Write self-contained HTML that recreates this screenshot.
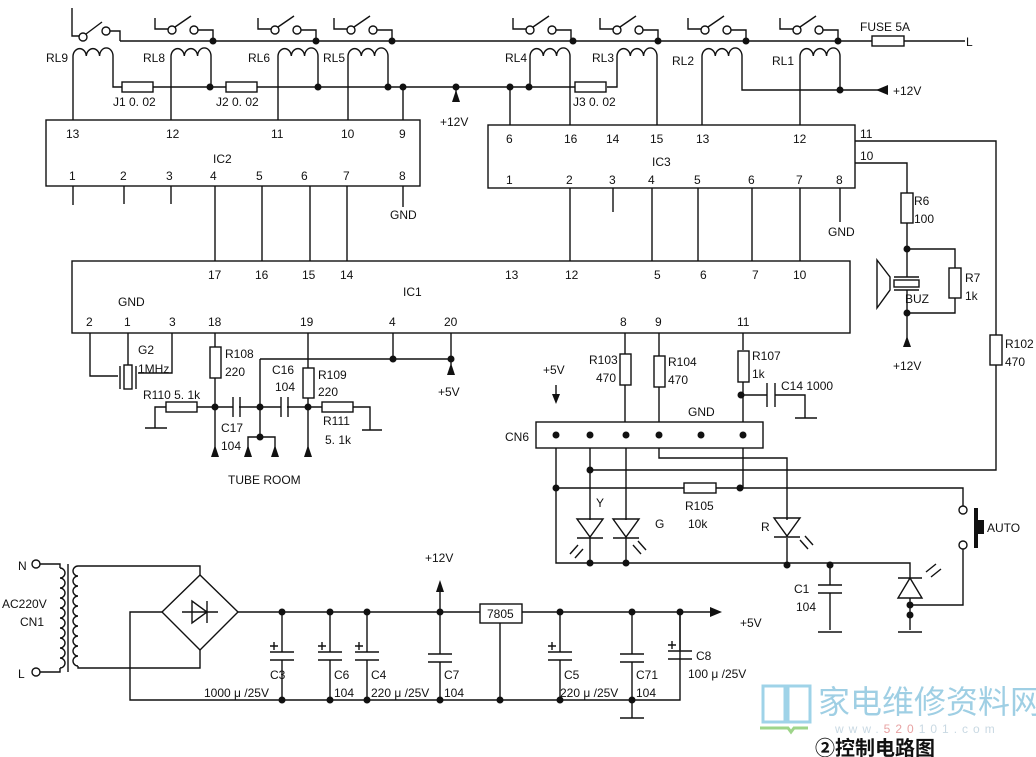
<!DOCTYPE html>
<html><head><meta charset="utf-8"><style>
html,body{margin:0;padding:0;background:#fff}
svg{display:block}
text{font-family:"Liberation Sans","Noto Sans CJK SC",sans-serif;font-size:12px;fill:#111}
.w{stroke:#111;stroke-width:1.4;fill:none}
.r{stroke:#111;stroke-width:1.4;fill:#fff}
.d{fill:#111}
</style></head><body>
<svg width="1036" height="757" viewBox="0 0 1036 757" xmlns="http://www.w3.org/2000/svg">
<defs>
<g id="coil"><path class="w" d="M0,62 V56 a6.67,8 0 0 1 13.3,0 a6.67,8 0 0 1 13.3,0 a6.67,8 0 0 1 13.4,0 V62"/></g>
<g id="sw"><path class="w" d="M0,18 V29 H13"/><circle class="r" cx="17" cy="30" r="4"/><line class="w" x1="20" y1="27" x2="36" y2="16"/><circle class="r" cx="39" cy="30" r="4"/><path class="w" d="M43,30 H58 V41"/></g>
<g id="dot"><circle class="d" r="3.5"/></g>
<g id="cap"><line class="w" x1="-12" y1="-4" x2="12" y2="-4"/><line class="w" x1="-12" y1="4" x2="12" y2="4"/></g>
<g id="ecap"><line class="w" x1="-12" y1="-4" x2="12" y2="-4"/><line class="w" x1="-12" y1="4" x2="12" y2="4"/><path class="w" d="M-8,-14 v8 M-12,-10 h8"/></g>
</defs>

<line class="w" x1="120" y1="41" x2="965" y2="41"/>
<rect class="r" x="872" y="36" width="32" height="10"/>
<text x="860" y="31">FUSE 5A</text>
<text x="966" y="46">L</text>
<path class="w" d="M72,8 V36 H80"/><circle class="r" cx="83" cy="37" r="4"/><line class="w" x1="86" y1="34" x2="102" y2="22"/><circle class="r" cx="106" cy="31" r="4"/><path class="w" d="M110,31 H120 V41"/>
<use href="#sw" x="155"/><use href="#sw" x="258"/><use href="#sw" x="334"/>
<use href="#sw" x="513"/><use href="#sw" x="600"/><use href="#sw" x="688"/><use href="#sw" x="780"/>
<use href="#dot" x="213" y="41"/><use href="#dot" x="316" y="41"/><use href="#dot" x="392" y="41"/><use href="#dot" x="573" y="41"/><use href="#dot" x="658" y="41"/><use href="#dot" x="746" y="41"/><use href="#dot" x="838" y="41"/>

<use href="#coil" x="73" y="0"/><use href="#coil" x="171"/><use href="#coil" x="278"/><use href="#coil" x="348"/>
<use href="#coil" x="530"/><use href="#coil" x="617"/><use href="#coil" x="702"/><use href="#coil" x="800"/>
<text x="46" y="62">RL9</text><text x="143" y="62">RL8</text><text x="248" y="62">RL6</text><text x="323" y="62">RL5</text>
<text x="505" y="62">RL4</text><text x="592" y="62">RL3</text><text x="672" y="65">RL2</text><text x="772" y="65">RL1</text>
<path class="w" d="M73,62 V120 M113,62 V87 H122 M153,87 H226 M257,87 H575 M607,87 H617 V62"/>
<rect class="r" x="122" y="82" width="31" height="10"/><rect class="r" x="226" y="82" width="31" height="10"/><rect class="r" x="575" y="82" width="31" height="10"/>
<text x="113" y="106">J1  0. 02</text><text x="216" y="106">J2  0. 02</text><text x="573" y="106">J3  0. 02</text>
<path class="w" d="M171,62 V120 M211,62 V87 M278,62 V120 M318,62 V87 M348,62 V120 M388,62 V87 M403,87 V120 M456,87 V100"/>
<use href="#dot" x="210" y="87"/><use href="#dot" x="318" y="87"/><use href="#dot" x="388" y="87"/><use href="#dot" x="403" y="87"/><use href="#dot" x="456" y="87"/><use href="#dot" x="510" y="87"/><use href="#dot" x="529" y="87"/>
<path class="d" d="M456,90 l-4,12 h8z"/><text x="440" y="126">+12V</text>
<path class="w" d="M510,87 V125 M530,62 V87 M570,62 V125 M657,62 V125 M702,62 V125 M742,62 V90 H880 M800,62 V125 M840,62 V90"/>
<use href="#dot" x="840" y="90"/><path class="d" d="M876,90 l12,-5 v10z"/><text x="893" y="95">+12V</text>

<rect class="w" x="46" y="120" width="374" height="66"/>
<text x="66" y="138">13</text><text x="166" y="138">12</text><text x="271" y="138">11</text><text x="341" y="138">10</text><text x="399" y="138">9</text>
<text x="213" y="163">IC2</text>
<text x="69" y="180">1</text><text x="120" y="180">2</text><text x="166" y="180">3</text><text x="210" y="180">4</text><text x="256" y="180">5</text><text x="301" y="180">6</text><text x="343" y="180">7</text><text x="399" y="180">8</text>
<path class="w" d="M73,186 V205 M124,186 V204 M171,186 V204 M215,186 V261 M262,186 V261 M310,186 V261 M347,186 V261 M403,186 V207"/>
<text x="390" y="219">GND</text>

<rect class="w" x="488" y="125" width="367" height="63"/>
<text x="506" y="143">6</text><text x="564" y="143">16</text><text x="606" y="143">14</text><text x="650" y="143">15</text><text x="696" y="143">13</text><text x="793" y="143">12</text>
<text x="860" y="138">11</text><text x="860" y="160">10</text>
<text x="652" y="166">IC3</text>
<text x="506" y="184">1</text><text x="566" y="184">2</text><text x="609" y="184">3</text><text x="648" y="184">4</text><text x="694" y="184">5</text><text x="748" y="184">6</text><text x="796" y="184">7</text><text x="836" y="184">8</text>
<path class="w" d="M570,188 V261 M613,188 V212 M652,188 V261 M698,188 V261 M752,188 V261 M800,188 V261 M840,188 V222"/>
<text x="828" y="236">GND</text>
<path class="w" d="M855,141 H996 V335 M996,365 V470 H590"/>
<rect class="r" x="990" y="335" width="12" height="30"/><text x="1005" y="348">R102</text><text x="1005" y="366">470</text>
<path class="w" d="M855,163 H907 V193 M907,223 V249 H955 V268 M955,298 V313 H907 V345 M907,249 V277 M907,290 V313"/>
<rect class="r" x="901" y="193" width="12" height="30"/><text x="914" y="205">R6</text><text x="914" y="223">100</text>
<rect class="r" x="949" y="268" width="12" height="30"/><text x="965" y="282">R7</text><text x="965" y="300">1k</text>
<use href="#dot" x="907" y="249"/><use href="#dot" x="907" y="313"/>
<rect class="r" x="894" y="280" width="25" height="7"/><line class="w" x1="894" y1="277" x2="919" y2="277"/><line class="w" x1="894" y1="290" x2="919" y2="290"/>
<path class="w" d="M877,260 L890,277 V290 L877,308 Z M890,277 V290"/>
<text x="905" y="303">BUZ</text>
<path class="d" d="M907,336 l-4,11 h8z"/><text x="893" y="370">+12V</text>

<rect class="w" x="72" y="261" width="778" height="72"/>
<text x="208" y="279">17</text><text x="255" y="279">16</text><text x="302" y="279">15</text><text x="340" y="279">14</text><text x="505" y="279">13</text><text x="565" y="279">12</text><text x="654" y="279">5</text><text x="700" y="279">6</text><text x="752" y="279">7</text><text x="793" y="279">10</text>
<text x="403" y="296">IC1</text>
<text x="118" y="306">GND</text>
<text x="86" y="326">2</text><text x="124" y="326">1</text><text x="169" y="326">3</text><text x="208" y="326">18</text><text x="300" y="326">19</text><text x="389" y="326">4</text><text x="444" y="326">20</text><text x="620" y="326">8</text><text x="655" y="326">9</text><text x="737" y="326">11</text>

<path class="w" d="M90,333 V376 H118 M128,333 V365 M172,333 V373 H138"/>
<rect class="r" x="124" y="365" width="8" height="24"/><line class="w" x1="120" y1="366" x2="120" y2="389"/><line class="w" x1="136" y1="366" x2="136" y2="389"/>
<text x="138" y="354">G2</text><text x="138" y="373">1MHz</text>
<path class="w" d="M215,333 V347 M215,378 V455 M155,428 V407 H166 M197,407 H233 M239,407 H281 M287,407 H322 M353,407 H370 V430 M308,333 V368 M308,398 V455 M260,359 V437 M260,359 H451 M393,333 V359 M451,333 V365 M248,455 V437 H275 V455"/>
<line class="w" x1="145" y1="428" x2="167" y2="428"/><line class="w" x1="362" y1="430" x2="382" y2="430"/>
<rect class="r" x="210" y="347" width="11" height="31"/><rect class="r" x="303" y="368" width="11" height="30"/>
<rect class="r" x="166" y="402" width="31" height="10"/><rect class="r" x="322" y="402" width="31" height="10"/>
<line class="w" x1="233" y1="397" x2="233" y2="417"/><line class="w" x1="240" y1="397" x2="240" y2="417"/>
<line class="w" x1="281" y1="397" x2="281" y2="417"/><line class="w" x1="288" y1="397" x2="288" y2="417"/>
<use href="#dot" x="215" y="407"/><use href="#dot" x="260" y="407"/><use href="#dot" x="308" y="407"/><use href="#dot" x="260" y="437"/><use href="#dot" x="393" y="359"/><use href="#dot" x="451" y="359"/>
<path class="d" d="M215,445 l-4,12 h8z M248,445 l-4,12 h8z M275,445 l-4,12 h8z M308,445 l-4,12 h8z M451,363 l-4,12 h8z"/>
<text x="225" y="358">R108</text><text x="225" y="376">220</text>
<text x="143" y="399">R110  5. 1k</text>
<text x="221" y="432">C17</text><text x="221" y="450">104</text>
<text x="272" y="374">C16</text><text x="275" y="391">104</text>
<text x="318" y="379">R109</text><text x="318" y="396">220</text>
<text x="323" y="425">R111</text><text x="325" y="444">5. 1k</text>
<text x="228" y="484">TUBE  ROOM</text>
<text x="438" y="396">+5V</text>

<path class="w" d="M625,333 V354 M625,385 V422 M659,333 V356 M659,387 V422 M743,333 V350 M743,382 V422 M743,395 H767 M775,395 H805 V418"/>
<line class="w" x1="795" y1="418" x2="817" y2="418"/>
<rect class="r" x="620" y="354" width="11" height="31"/><rect class="r" x="654" y="356" width="11" height="31"/><rect class="r" x="738" y="351" width="11" height="31"/>
<line class="w" x1="767" y1="383" x2="767" y2="407"/><line class="w" x1="775" y1="383" x2="775" y2="407"/>
<use href="#dot" x="741" y="395"/>
<text x="589" y="364">R103</text><text x="596" y="382">470</text>
<text x="668" y="366">R104</text><text x="668" y="384">470</text>
<text x="752" y="360">R107</text><text x="752" y="378">1k</text>
<text x="781" y="390">C14  1000</text>
<text x="688" y="416">GND</text>
<path class="w" d="M556,385 V398"/><path class="d" d="M556,404 l-4,-10 h8z"/><text x="543" y="374">+5V</text>
<rect class="w" x="536" y="422" width="227" height="26"/>
<use href="#dot" x="556" y="435"/><use href="#dot" x="590" y="435"/><use href="#dot" x="626" y="435"/><use href="#dot" x="659" y="435"/><use href="#dot" x="701" y="435"/><use href="#dot" x="743" y="435"/>
<text x="505" y="441">CN6</text>
<path class="w" d="M556,448 V563 H910 V578 M590,448 V520 M590,538 V563 M626,448 V520 M626,538 V563 M659,448 V458 H787 V520 M787,538 V565 M743,448 V488 M556,488 H684 M716,488 H963 V506 M963,549 V605 H910 M910,598 V615 M830,563 V585 M830,593 V630"/>
<rect class="r" x="684" y="483" width="32" height="10"/>
<use href="#dot" x="590" y="470"/><use href="#dot" x="556" y="488"/><use href="#dot" x="740" y="488"/><use href="#dot" x="590" y="563"/><use href="#dot" x="626" y="563"/><use href="#dot" x="787" y="565"/><use href="#dot" x="830" y="565"/><use href="#dot" x="910" y="605"/>
<text x="685" y="510">R105</text><text x="688" y="528">10k</text>
<path class="w" d="M577,519 H603 L590,537 Z M577,538 H603 M613,519 H639 L626,537 Z M613,538 H639 M774,518 H800 L787,536 Z M774,537 H800"/>
<path class="w" d="M578,545 l-8,9 M583,549 l-8,9 M633,545 l8,9 M638,541 l8,9 M800,540 l8,9 M805,536 l8,9"/>
<text x="596" y="507">Y</text><text x="655" y="528">G</text><text x="761" y="531">R</text>
<line class="w" x1="818" y1="585" x2="842" y2="585"/><line class="w" x1="818" y1="593" x2="842" y2="593"/><line class="w" x1="818" y1="632" x2="842" y2="632"/>
<text x="794" y="593">C1</text><text x="796" y="611">104</text>
<path class="w" d="M898,598 H922 L910,578 Z M898,578 H922 M910,615 V630 M898,632 H922 M926,572 l10,-8 M931,577 l10,-8"/>
<use href="#dot" x="910" y="615"/>
<circle class="r" cx="963" cy="510" r="4"/><circle class="r" cx="963" cy="545" r="4"/>
<rect class="d" x="974" y="508" width="4" height="40"/><rect class="d" x="978" y="520" width="6" height="14"/>
<text x="987" y="532">AUTO</text>

<circle class="r" cx="36" cy="564" r="4"/><circle class="r" cx="36" cy="672" r="4"/>
<text x="18" y="570">N</text><text x="18" y="678">L</text><text x="2" y="608">AC220V</text><text x="20" y="626">CN1</text>
<path class="w" d="M40,564 H60 V568 M40,672 H60 V668"/>
<path class="w" d="M60,568 a5,5 0 0 1 0,10 a5,5 0 0 1 0,10 a5,5 0 0 1 0,10 a5,5 0 0 1 0,10 a5,5 0 0 1 0,10 a5,5 0 0 1 0,10 a5,5 0 0 1 0,10 a5,5 0 0 1 0,10 a5,5 0 0 1 0,10 a5,5 0 0 1 0,10"/>
<line class="w" x1="68" y1="564" x2="68" y2="672"/>
<path class="w" d="M78,566 a5,5 0 0 0 0,10 a5,5 0 0 0 0,10 a5,5 0 0 0 0,10 a5,5 0 0 0 0,10 a5,5 0 0 0 0,10 a5,5 0 0 0 0,10 a5,5 0 0 0 0,10 a5,5 0 0 0 0,10 a5,5 0 0 0 0,10 a5,5 0 0 0 0,10"/>
<path class="w" d="M78,566 H200 V575 M78,666 V668 H200 V650"/>
<path class="w" d="M200,575 L238,612 L200,650 L162,612 Z"/>
<path class="w" d="M182,612 H218 M192,601 V623 L207,612 Z M207,601 V623"/>
<path class="w" d="M162,612 H130 V700 H680 V612 M238,612 H480 M522,612 H712"/>
<path class="d" d="M722,612 l-12,-5 v10z"/><text x="740" y="627">+5V</text>
<rect class="r" x="480" y="604" width="42" height="19"/><text x="487" y="618">7805</text>
<path class="w" d="M500,623 V700 M440,612 V586 M632,700 V718"/><path class="d" d="M440,580 l-4,12 h8z"/><line class="w" x1="620" y1="718" x2="644" y2="718"/>
<text x="425" y="562">+12V</text>
<path class="w" d="M282,612 V652 M282,660 V700 M330,612 V652 M330,660 V700 M367,612 V652 M367,660 V700 M440,612 V654 M440,662 V700 M560,612 V652 M560,660 V700 M632,612 V654 M632,662 V700 M680,612 V650"/>
<use href="#ecap" x="282" y="656"/><use href="#ecap" x="330" y="656"/><use href="#ecap" x="367" y="656"/><use href="#cap" x="440" y="658"/><use href="#ecap" x="560" y="656"/><use href="#cap" x="632" y="658"/><use href="#ecap" x="680" y="655"/>
<use href="#dot" x="282" y="612"/><use href="#dot" x="330" y="612"/><use href="#dot" x="367" y="612"/><use href="#dot" x="440" y="612"/><use href="#dot" x="560" y="612"/><use href="#dot" x="632" y="612"/><use href="#dot" x="680" y="612"/>
<use href="#dot" x="282" y="700"/><use href="#dot" x="330" y="700"/><use href="#dot" x="367" y="700"/><use href="#dot" x="440" y="700"/><use href="#dot" x="500" y="700"/><use href="#dot" x="560" y="700"/><use href="#dot" x="632" y="700"/>
<text x="270" y="679">C3</text><text x="204" y="697">1000 μ /25V</text>
<text x="334" y="679">C6</text><text x="334" y="697">104</text>
<text x="371" y="679">C4</text><text x="371" y="697">220 μ /25V</text>
<text x="444" y="679">C7</text><text x="444" y="697">104</text>
<text x="564" y="679">C5</text><text x="560" y="697">220 μ /25V</text>
<text x="636" y="679">C71</text><text x="636" y="697">104</text>
<text x="696" y="660">C8</text><text x="688" y="678">100 μ /25V</text>

<path d="M763,686 h22 v36 h-22 z M788,686 h22 v36 h-22 z" fill="none" stroke="#9fd3e8" stroke-width="3"/>
<path d="M760,728 h28 l3,4 l3,-4 h14" fill="none" stroke="#9ed58a" stroke-width="3"/>
<text x="818" y="713" style="font-size:32px;fill:#9fcfe4">家电维修资料网</text>
<text x="835" y="733" style="font-size:12px;fill:#c9d9e3;letter-spacing:5px">www.<tspan style="fill:#e8a3a3">520</tspan>101.com</text>
<text x="815" y="755" style="font-size:20px;font-weight:bold;fill:#111">②控制电路图</text>
</svg>
</body></html>
